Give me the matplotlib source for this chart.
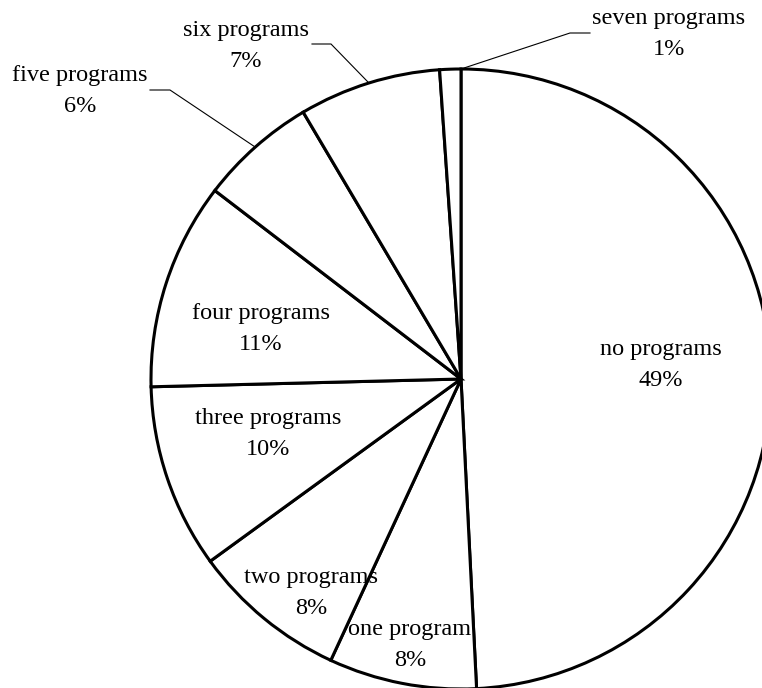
import matplotlib
matplotlib.use("Agg")
import matplotlib.pyplot as plt
import numpy as np

# Share of respondents by number of programs used (percent)
categories = ["no programs", "one program", "two programs", "three programs",
              "four programs", "five programs", "six programs", "seven programs"]
shares = [49.2, 7.7, 8.1, 9.6, 10.8, 6.1, 7.4, 1.1]

W, H = 762, 688
fig = plt.figure(figsize=(W / 100, H / 100), dpi=100)
ax = fig.add_axes([0, 0, 1, 1])

# pie geometry in pixel units (y measured from the top)
cx, cy_top, R = 461, 379, 310
cy = H - cy_top

wedges, _ = ax.pie(shares, startangle=90, counterclock=False,
                   center=(cx, cy), radius=R,
                   colors=["white"] * len(shares),
                   wedgeprops=dict(edgecolor="black", linewidth=2.2,
                                   joinstyle="miter"),
                   frame=True)
ax.set_xlim(0, W)
ax.set_ylim(0, H)
ax.set_aspect("equal")
ax.axis("off")

font = dict(family="Liberation Serif", fontsize=17.5, color="black",
            ha="center", va="center", linespacing=1.6)

# label centres (pixels from top-left)
label_pos = {
    "no programs": (661, 365),
    "one program": (410, 645),
    "two programs": (311, 593),
    "three programs": (268, 434),
    "four programs": (261, 329),
    "five programs": (80, 91),
    "six programs": (246, 46),
    "seven programs": (669, 34),
}

for cat, v in zip(categories, shares):
    x, y = label_pos[cat]
    ax.text(x, H - y, f"{cat}\n{v:.0f}%", **font)

# leader lines for the small outer slices: text end, elbow, position in slice
leaders = {
    "five programs": ((150, 90), (170, 90), 0.5),
    "six programs": ((312, 44), (331, 44), 0.5),
    "seven programs": ((590, 33), (570, 33), 1.0),
}
cum = np.concatenate([[0], np.cumsum(shares)]) / np.sum(shares)
for cat, (p0, p1, frac) in leaders.items():
    i = categories.index(cat)
    f = cum[i] + frac * (cum[i + 1] - cum[i])
    ang = np.deg2rad(90 - 360 * f)
    ex, ey = cx + R * np.cos(ang), cy + R * np.sin(ang)
    ax.plot([p0[0], p1[0], ex], [H - p0[1], H - p1[1], ey],
            color="black", lw=0.8, solid_joinstyle="miter")

fig.savefig("out.png", dpi=100)
